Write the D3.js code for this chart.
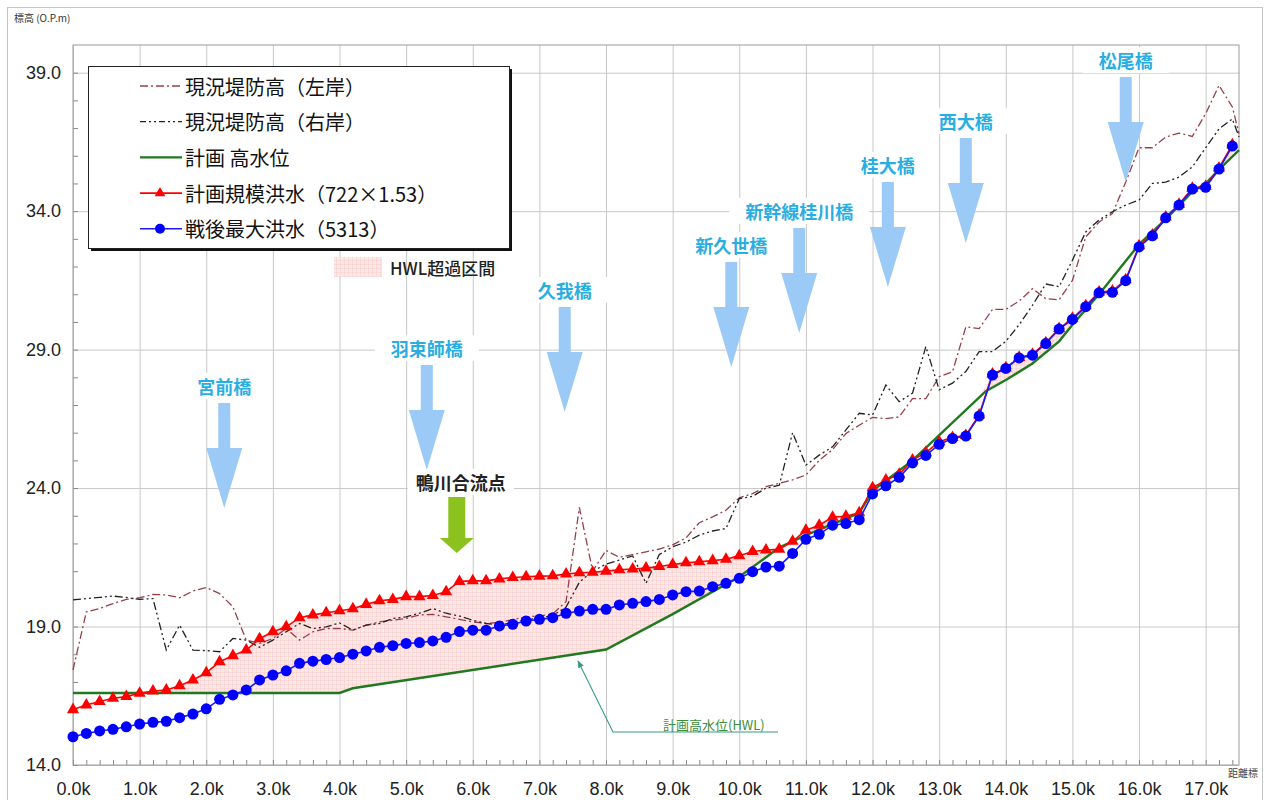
<!DOCTYPE html>
<html lang="ja">
<head>
<meta charset="utf-8">
<title>桂川 縦断図</title>
<script src="https://cdn.jsdelivr.net/npm/d3@7"></script>
<style>
  body { margin: 0; background: #fff; }
  svg { display: block; font-family: "Noto Sans CJK JP", "Noto Sans", sans-serif; }
  .grid line { stroke: #c8c8c8; stroke-width: 1; }
  .grid .domain { display: none; }
  .axis text { font-size: 18px; fill: #222; }
  .axis .domain { display: none; }
  .minor line { stroke: #888; }
  .minor .domain { display: none; }
</style>
</head>
<body>
<svg id="chart" width="1271" height="800"></svg>
<script>
// 距離標 (km)
var stations = [0.0,0.2,0.4,0.6,0.8,1.0,1.2,1.4,1.6,1.8,2.0,2.2,2.4,2.6,2.8,3.0,3.2,3.4,3.6,3.8,
  4.0,4.2,4.4,4.6,4.8,5.0,5.2,5.4,5.6,5.8,6.0,6.2,6.4,6.6,6.8,7.0,7.2,7.4,7.6,7.8,
  8.0,8.2,8.4,8.6,8.8,9.0,9.2,9.4,9.6,9.8,10.0,10.2,10.4,10.6,10.8,11.0,11.2,11.4,11.6,11.8,
  12.0,12.2,12.4,12.6,12.8,13.0,13.2,13.4,13.6,13.8,14.0,14.2,14.4,14.6,14.8,15.0,15.2,15.4,15.6,15.8,
  16.0,16.2,16.4,16.6,16.8,17.0,17.2,17.4];
var bankKm = stations.concat([17.5]);

// 計画規模洪水（722×1.53）
var planFlood = [16.00,16.17,16.29,16.41,16.47,16.59,16.67,16.71,16.86,17.07,17.33,17.73,17.95,18.15,18.56,18.81,18.99,19.32,19.42,19.50,
  19.57,19.64,19.80,19.93,19.98,20.08,20.08,20.12,20.26,20.63,20.65,20.65,20.72,20.77,20.80,20.82,20.83,20.90,20.94,20.96,
  21.00,21.05,21.08,21.11,21.17,21.24,21.30,21.34,21.38,21.43,21.56,21.71,21.76,21.79,22.08,22.48,22.66,22.95,22.98,23.11,
  24.01,24.29,24.50,25.01,25.28,25.67,25.83,25.90,26.64,28.12,28.34,28.72,28.83,29.25,29.76,30.13,30.58,31.08,31.12,31.52,
  32.75,33.14,33.79,34.25,34.83,34.90,35.56,36.40];

// 戦後最大洪水（5313）
var maxFlood = [15.02,15.14,15.23,15.29,15.38,15.48,15.54,15.58,15.71,15.84,16.03,16.37,16.53,16.71,17.07,17.25,17.40,17.67,17.75,17.81,
  17.88,18.00,18.12,18.25,18.31,18.39,18.42,18.48,18.61,18.82,18.87,18.87,19.02,19.08,19.20,19.26,19.32,19.48,19.56,19.62,
  19.62,19.78,19.84,19.90,19.98,20.14,20.26,20.28,20.44,20.56,20.74,20.98,21.15,21.18,21.64,22.15,22.33,22.66,22.72,22.86,
  23.79,24.08,24.39,24.91,25.18,25.58,25.79,25.88,26.60,28.08,28.32,28.70,28.80,29.22,29.74,30.09,30.55,31.05,31.07,31.49,
  32.71,33.11,33.76,34.22,34.80,34.86,35.52,36.35];

// 現況堤防高（左岸）
var leftBank = [17.43,19.53,19.65,19.83,19.98,20.04,20.16,20.14,20.04,20.28,20.41,20.19,19.71,18.51,18.39,18.57,18.93,18.51,18.81,18.93,
  18.93,18.87,19.05,19.17,19.23,19.29,19.42,19.44,19.35,19.26,19.17,19.11,19.15,19.25,19.35,19.38,19.45,19.90,23.30,21.00,
  21.75,21.50,21.60,21.70,21.80,21.95,22.20,22.75,22.96,23.20,23.65,23.80,24.05,24.17,24.30,24.47,25.00,25.39,25.97,26.27,
  26.55,26.51,26.57,27.23,27.23,28.02,28.20,29.82,29.76,30.45,30.45,30.75,31.20,30.84,30.80,31.50,33.07,33.61,33.91,35.05,
  36.29,36.29,36.68,36.82,36.70,37.52,38.54,37.76,36.80];

// 現況堤防高（右岸）
var rightBank = [19.96,20.01,20.05,20.10,20.05,19.98,20.01,18.15,19.05,18.15,18.13,18.09,18.57,18.51,18.25,18.51,18.81,19.11,18.93,18.99,
  19.13,18.87,19.05,19.11,19.29,19.35,19.48,19.65,19.48,19.38,19.23,19.11,19.05,19.15,19.25,19.30,19.40,19.70,20.60,21.00,
  21.25,21.40,21.55,20.56,21.60,21.88,22.05,22.30,22.45,22.54,23.62,23.70,24.00,24.10,26.00,24.83,25.19,25.49,26.10,26.70,
  26.64,27.72,27.12,27.43,29.11,27.55,27.79,28.21,28.93,28.93,29.30,29.90,30.60,31.37,31.27,32.23,33.25,33.68,33.98,34.22,
  34.40,35.00,35.05,35.23,35.60,36.29,36.97,37.33,36.68];

// 計画高水位 (HWL) 折点
var hwlKm  = [0.0,4.0,4.2,8.0,9.0,10.0,10.6,11.0,11.8,12.0,12.6,13.7,14.0,14.4,14.8,15.0,15.4,16.0,16.4,16.8,17.0,17.2,17.5];
var hwlVal = [16.6,16.6,16.77,18.17,19.45,20.8,21.85,22.3,23.1,23.9,25.0,27.5,27.9,28.5,29.3,29.9,31.0,32.8,33.7,34.7,35.0,35.5,36.2];

var xTicks = [0,1,2,3,4,5,6,7,8,9,10,11,12,13,14,15,16,17];
var yTicks = [14,19,24,29,34,39];

// 橋梁 (km, 矢印先端の標高)
var bridges = [
  {name: "宮前橋", km: 2.27, elev: 23.28},
  {name: "羽束師橋", km: 5.31, elev: 24.65},
  {name: "久我橋", km: 7.38, elev: 26.75},
  {name: "新久世橋", km: 9.88, elev: 28.37},
  {name: "新幹線桂川橋", km: 10.90, elev: 29.60},
  {name: "桂大橋", km: 12.23, elev: 31.26},
  {name: "西大橋", km: 13.40, elev: 32.85},
  {name: "松尾橋", km: 15.80, elev: 35.05}
];
var confluence = {name: "鴨川合流点", km: 5.76, elev: 21.66};

var svg = d3.select("#chart");
var pL = 73, pR = 1239, pT = 45, pB = 765;

var x = d3.scaleLinear().domain([0, 17.5]).range([pL, pR]);
var y = d3.scaleLinear().domain([14, 40]).range([pB, pT]);
var hwlAt = d3.scaleLinear().domain(hwlKm).range(hwlVal);

// outer frame
svg.append("rect").attr("x", 7.5).attr("y", 7.5).attr("width", 1255).attr("height", 810)
  .attr("fill", "none").attr("stroke", "#c4c4c4");

svg.append("text").attr("x", 14).attr("y", 22).attr("font-size", 10).attr("fill", "#333")
  .text("標高 (O.P.m)");
svg.append("text").attr("x", 1228).attr("y", 777).attr("font-size", 10).attr("fill", "#444")
  .text("距離標");

// pattern for HWL 超過区間
var defs = svg.append("defs");
var pat = defs.append("pattern").attr("id", "hatch").attr("patternUnits", "userSpaceOnUse")
  .attr("width", 4).attr("height", 4);
pat.append("rect").attr("width", 4).attr("height", 4).attr("fill", "#fde8e8");
pat.append("path").attr("d", "M0,0H4M0,0V4").attr("stroke", "#f7c0c0").attr("stroke-width", 0.7);

defs.append("marker").attr("id", "tealhead").attr("viewBox", "0 0 10 10")
  .attr("refX", 9).attr("refY", 5).attr("markerWidth", 7).attr("markerHeight", 7)
  .attr("orient", "auto-start-reverse")
  .append("path").attr("d", "M0,1L10,5L0,9z").attr("fill", "#3a9a86");

// grid
svg.append("g").attr("class", "grid").attr("transform", "translate(0," + pB + ")")
  .call(d3.axisBottom(x).tickValues(xTicks).tickSize(-(pB - pT)).tickFormat(""));
svg.append("g").attr("class", "grid").attr("transform", "translate(" + pL + ",0)")
  .call(d3.axisLeft(y).tickValues(yTicks).tickSize(-(pR - pL)).tickFormat(""));

// minor ticks (inside)
svg.append("g").attr("class", "minor").attr("transform", "translate(0," + pB + ")")
  .call(d3.axisBottom(x).tickValues(d3.range(0, 17.5, 0.2)).tickSize(-5).tickFormat(""));
svg.append("g").attr("class", "minor").attr("transform", "translate(" + pL + ",0)")
  .call(d3.axisLeft(y).tickValues(d3.range(14, 40, 1)).tickSize(-5).tickFormat(""));

svg.append("rect").attr("x", pL).attr("y", pT).attr("width", pR - pL).attr("height", pB - pT)
  .attr("fill", "none").attr("stroke", "#9a9a9a");

// tick labels
svg.append("g").attr("class", "axis").attr("transform", "translate(0," + pB + ")")
  .call(d3.axisBottom(x).tickValues(xTicks).tickSize(0).tickPadding(17)
    .tickFormat(function(d) { return d.toFixed(1) + "k"; }));
svg.append("g").attr("class", "axis").attr("transform", "translate(" + pL + ",0)")
  .call(d3.axisLeft(y).tickValues(yTicks).tickSize(0).tickPadding(12)
    .tickFormat(function(d) { return d.toFixed(1); }));

// HWL 超過区間 fill
var over = stations.map(function(k, i) {
  var h = hwlAt(k);
  return {k: k, h: h, r: Math.max(h, planFlood[i])};
});
svg.append("path").datum(over)
  .attr("fill", "url(#hatch)")
  .attr("d", d3.area().x(function(d) { return x(d.k); })
    .y0(function(d) { return y(d.h); }).y1(function(d) { return y(d.r); }));

var line = d3.line().x(function(d) { return x(d[0]); }).y(function(d) { return y(d[1]); });

// existing levee heights
svg.append("path").datum(d3.zip(bankKm, leftBank))
  .attr("fill", "none").attr("stroke", "#98404a").attr("stroke-width", 1.3)
  .attr("stroke-dasharray", "8,3,2,3").attr("d", line);
svg.append("path").datum(d3.zip(bankKm, rightBank))
  .attr("fill", "none").attr("stroke", "#222").attr("stroke-width", 1.3)
  .attr("stroke-dasharray", "8,3,2,3,2,3").attr("d", line);

// HWL
svg.append("path").datum(d3.zip(hwlKm, hwlVal))
  .attr("fill", "none").attr("stroke", "#1f7a1f").attr("stroke-width", 2.4).attr("d", line);

// planned scale flood
svg.append("path").datum(d3.zip(stations, planFlood))
  .attr("fill", "none").attr("stroke", "#ff0000").attr("stroke-width", 1.6).attr("d", line);
svg.append("g").selectAll("path").data(d3.zip(stations, planFlood)).join("path")
  .attr("transform", function(d) { return "translate(" + x(d[0]) + "," + y(d[1]) + ")"; })
  .attr("d", d3.symbol(d3.symbolTriangle, 64)).attr("fill", "#ff0000");

// postwar max flood
svg.append("path").datum(d3.zip(stations, maxFlood))
  .attr("fill", "none").attr("stroke", "#1a1aff").attr("stroke-width", 1.6).attr("d", line);
svg.append("g").selectAll("circle").data(d3.zip(stations, maxFlood)).join("circle")
  .attr("cx", function(d) { return x(d[0]); }).attr("cy", function(d) { return y(d[1]); })
  .attr("r", 5.5).attr("fill", "#0000ff");

// bridge arrows
function arrow(tx, ty, sw, sl, hw, hl) {
  return "M" + (tx - sw) + "," + (ty - hl - sl) + "H" + (tx + sw) + "V" + (ty - hl) +
    "H" + (tx + hw) + "L" + tx + "," + ty + "L" + (tx - hw) + "," + (ty - hl) +
    "H" + (tx - sw) + "Z";
}
function label(g, cx, cy, txt, color, size, pad) {
  var t = g.append("text").attr("x", cx).attr("y", cy).attr("text-anchor", "middle")
    .attr("dominant-baseline", "central").attr("font-size", size).attr("font-weight", "bold")
    .attr("fill", color).text(txt);
  var w = t.node().getComputedTextLength();
  g.insert("rect", "text").attr("x", cx - w / 2 - pad).attr("y", cy - 13)
    .attr("width", w + 2 * pad).attr("height", 26).attr("fill", "#fff");
}
var ann = svg.append("g");
bridges.forEach(function(b) {
  var tx = x(b.km), ty = y(b.elev);
  ann.append("path").attr("d", arrow(tx, ty, 6, 45, 18, 60)).attr("fill", "#9ccaf6");
  label(ann.append("g"), tx, ty - 122, b.name, "#29aee3", 18, 16);
});
(function() {
  var tx = x(confluence.km), ty = y(confluence.elev);
  ann.append("path").attr("d", arrow(tx, ty, 8.5, 41, 17, 15)).attr("fill", "#8cc21e");
  label(ann.append("g"), tx + 4, ty - 71, confluence.name, "#222", 18, 8);
})();

// HWL leader
svg.append("path").attr("d", "M778,732H613L578,661").attr("fill", "none")
  .attr("stroke", "#3a9a86").attr("stroke-width", 1.1).attr("marker-end", "url(#tealhead)");
svg.append("text").attr("x", 663).attr("y", 724).attr("dominant-baseline", "central")
  .attr("font-size", 13).attr("fill", "#3c8c3c").text("計画高水位(HWL)");

// legend
var lg = svg.append("g");
lg.append("rect").attr("x", 91).attr("y", 69).attr("width", 421).attr("height", 182).attr("fill", "#111");
lg.append("rect").attr("x", 88.5).attr("y", 66.5).attr("width", 421).attr("height", 182)
  .attr("fill", "#fff").attr("stroke", "#222");
var items = [
  {t: "現況堤防高（左岸）", c: "#98404a", dash: "8,3,2,3", w: 1.3},
  {t: "現況堤防高（右岸）", c: "#222", dash: "6,3,2,3,2,3", w: 1.3},
  {t: "計画 高水位", c: "#1f7a1f", w: 2.4},
  {t: "計画規模洪水（722×1.53）", c: "#ff0000", w: 1.6, m: "tri"},
  {t: "戦後最大洪水（5313）", c: "#1a1aff", w: 1.6, m: "dot"}
];
items.forEach(function(it, i) {
  var cy = 86 + i * 35.7;
  lg.append("line").attr("x1", 140).attr("x2", 182).attr("y1", cy).attr("y2", cy)
    .attr("stroke", it.c).attr("stroke-width", it.w).attr("stroke-dasharray", it.dash || null);
  if (it.m === "tri") lg.append("path").attr("transform", "translate(160," + cy + ")")
    .attr("d", d3.symbol(d3.symbolTriangle, 50)).attr("fill", "#ff0000");
  if (it.m === "dot") lg.append("circle").attr("cx", 160).attr("cy", cy).attr("r", 5).attr("fill", "#0000ff");
  lg.append("text").attr("x", 185).attr("y", cy).attr("dominant-baseline", "central")
    .attr("font-size", 20).attr("fill", "#111").text(it.t);
});
svg.append("rect").attr("x", 334).attr("y", 257).attr("width", 48).attr("height", 20).attr("fill", "url(#hatch)");
svg.append("text").attr("x", 390).attr("y", 267).attr("dominant-baseline", "central")
  .attr("font-size", 17).attr("font-weight", 500).attr("fill", "#222").text("HWL超過区間");
</script>
</body>
</html>
